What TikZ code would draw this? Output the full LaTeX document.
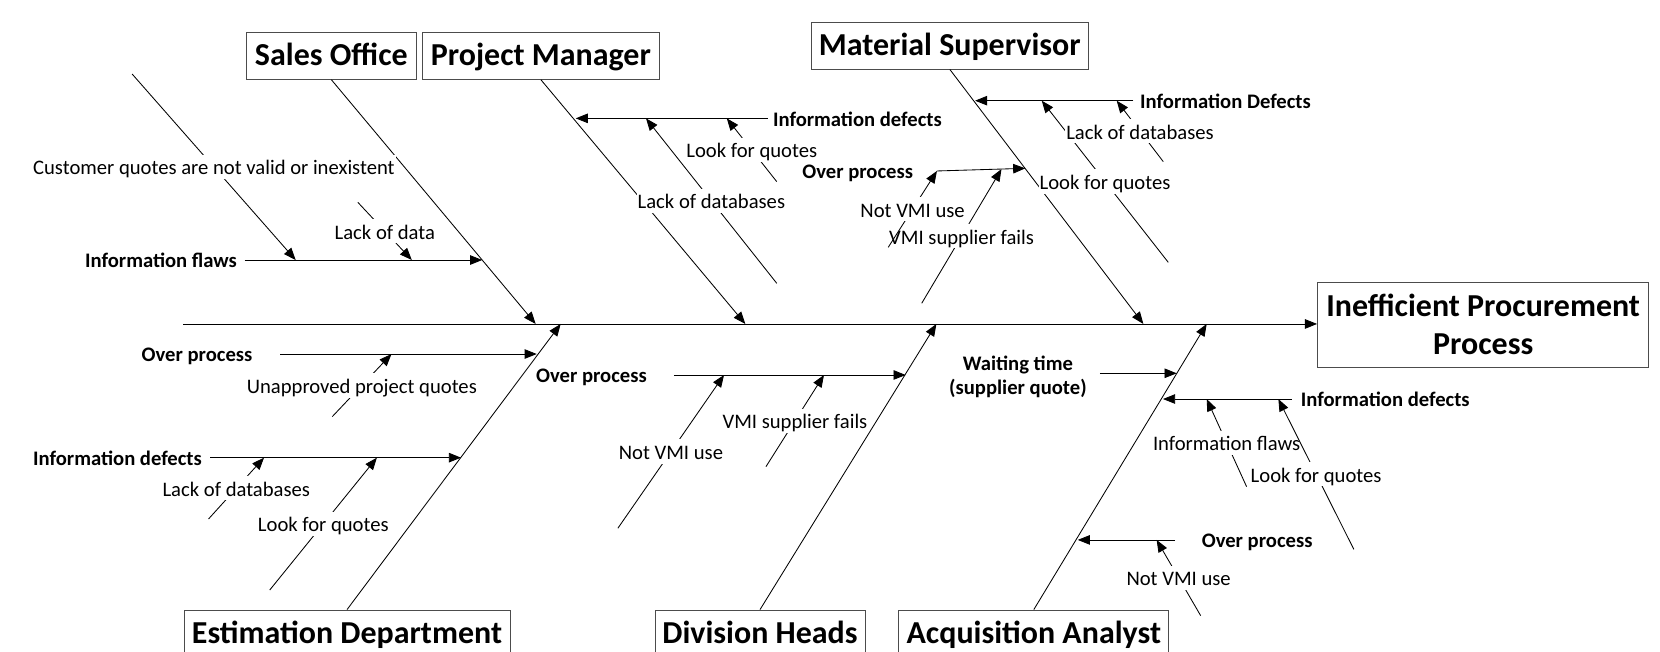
\documentclass[tikz,border=0pt]{standalone}
\usepackage{fontspec}
\setmainfont{Carlito}
\usetikzlibrary{arrows.meta}

\begin{document}
\begin{tikzpicture}[x=1pt, y=-1pt,
	headbox/.style={draw=black!70, line width=0.8pt, font=\bfseries\fontsize{30.2}{36}\selectfont, inner sep=0pt},
	ownerbox/.style={headbox, minimum height=44.4pt, text height=19.5pt, text depth=0.5pt},
	bone/.style={-{Triangle[length=11.5pt,width=9pt]}, line width=0.8pt},
	cause/.style={font=\fontsize{19.5}{23}\selectfont, fill=white, inner xsep=1pt, inner ysep=2.5pt, text height=16.5pt, text depth=1.5pt},
	grouplbl/.style={font=\bfseries\fontsize{19.5}{23}\selectfont, inner sep=0pt, text height=16pt, text depth=1pt},]

	\useasboundingbox (0,0) rectangle (1568,615);

	\node[ownerbox, minimum width=160.6pt] (sales) at (313,52.7) {Sales Office};
	\node[ownerbox, minimum width=223pt] (pm) at (510.9,52.7) {Project Manager};
	\node[ownerbox, minimum width=261.5pt] (ms) at (897.2,43) {Material Supervisor};
	\node[ownerbox, minimum width=307.9pt] (est) at (327.8,598.4) {Estimation Department};
	\node[ownerbox, minimum width=198.3pt] (div) at (717.9,598.4) {Division Heads};
	\node[ownerbox, minimum width=255pt] (acq) at (976.5,598.4) {Acquisition Analyst};
	\node[headbox, align=center, minimum width=313pt, minimum height=80.3pt] (effect) at (1401,306.5) {Inefficient Procurement\\Process};

	\coordinate (tail) at (173,306);
	\coordinate (sTip) at (506,306);
	\coordinate (pTip) at (704,306);
	\coordinate (mTip) at (1080,306);
	\coordinate (eTip) at (529.6,306);
	\coordinate (dTip) at (884.5,306);
	\coordinate (aTip) at (1139.8,306);

	\draw[bone] (tail) -- (tail -| effect.west);
	\draw[bone] (sales.south) -- (sTip);
	\draw[bone] (pm.south) -- (pTip);
	\draw[bone] (ms.south) -- (mTip);
	\draw[bone] (est.north) -- (eTip);
	\draw[bone] (div.north) -- (dTip);
	\draw[bone] (acq.north) -- (aTip);

	\path (231,245.6) coordinate (sf0) (455.5,245.6) coordinate (sf1)
		(124.8,69.9) coordinate (cq0) (279.3,245.6) coordinate (cq1)
		(338,191.1) coordinate (ld0) (389,245.6) coordinate (ld1);
	\node[grouplbl, anchor=east] (sFlaw) at (224,245.6) {Information flaws};
	\draw[bone] (sf0) -- (sf1);
	\draw[bone] (cq0) -- node[cause] (cq) {Customer quotes are not valid or inexistent} (cq1);
	\draw[bone] (ld0) -- node[cause] (ld) {Lack of data} (ld1);

	\path (725,111.8) coordinate (pd0) (543.8,111.8) coordinate (pd1)
		(733.7,267.6) coordinate (pl0) (610.2,111.8) coordinate (pl1)
		(733.7,171.6) coordinate (pq0) (686.5,111.8) coordinate (pq1);
	\node[grouplbl, anchor=west] (pDef) at (730,111.8) {Information defects};
	\draw[bone] (pd0) -- (pd1);
	\draw[bone] (pl0) -- node[cause] (pl) {Lack of databases} (pl1);
	\draw[bone] (pq0) -- node[cause] (pq) {Look for quotes} (pq1);

	\path (1070.5,95.1) coordinate (md0) (921,95.1) coordinate (md1)
		(1103.5,247.8) coordinate (mq0) (984,95.1) coordinate (mq1)
		(1098.8,152.7) coordinate (ml0) (1054.8,95.1) coordinate (ml1)
		(885,161.5) coordinate (mo0) (968.5,159) coordinate (mo1)
		(870.6,286.5) coordinate (mv0) (946,159.7) coordinate (mv1)
		(839,233.6) coordinate (mn0);
	\node[grouplbl, anchor=west] (mDef) at (1076.8,95.1) {Information Defects};
	\node[grouplbl, anchor=east] (mOver) at (862.7,161.2) {Over process};
	\draw[bone] (md0) -- (md1);
	\draw[bone] (mq0) -- node[cause] (mq) {Look for quotes} (mq1);
	\draw[bone] (ml0) -- node[cause] (ml) {Lack of databases} (ml1);
	\draw[bone] (mo0) -- (mo1);
	\draw[bone] (mv0) -- node[cause] (mv) {VMI supplier fails} (mv1);
	\draw[bone] (mn0) -- node[cause] (mn) {Not VMI use} (mo0);

	\path (264.6,334.4) coordinate (eo0) (507,334.4) coordinate (eo1)
		(313.8,393.6) coordinate (eu0) (369.8,334.4) coordinate (eu1)
		(198.8,432.3) coordinate (ed0) (435.5,432.3) coordinate (ed1)
		(197,490.2) coordinate (el0) (249.4,432.3) coordinate (el1)
		(254.8,557.3) coordinate (eq0) (356,432.3) coordinate (eq1);
	\node[grouplbl, anchor=east] (eOver) at (238.6,334.4) {Over process};
	\node[grouplbl, anchor=east] (eDef) at (190.9,432.3) {Information defects};
	\draw[bone] (eo0) -- (eo1);
	\draw[bone] (eu0) -- node[cause] (eu) {Unapproved project quotes} (eu1);
	\draw[bone] (ed0) -- (ed1);
	\draw[bone] (el0) -- node[cause] (el) {Lack of databases} (el1);
	\draw[bone] (eq0) -- node[cause] (eq) {Look for quotes} (eq1);

	\path (636.5,354.2) coordinate (do0) (855.5,354.2) coordinate (do1)
		(583.6,499) coordinate (dn0) (683.9,354.2) coordinate (dn1)
		(723.5,440.8) coordinate (dv0) (778.3,354.2) coordinate (dv1);
	\node[grouplbl, anchor=east] (dOver) at (611.2,354.2) {Over process};
	\draw[bone] (do0) -- (do1);
	\draw[bone] (dn0) -- node[cause] (dn) {Not VMI use} (dn1);
	\draw[bone] (dv0) -- node[cause] (dv) {VMI supplier fails} (dv1);

	\path (1039,352.6) coordinate (aw0) (1111.5,352.6) coordinate (aw1)
		(1220,376.9) coordinate (ad0) (1098.5,376.9) coordinate (ad1)
		(1177.5,459.7) coordinate (af0) (1139.8,376.9) coordinate (af1)
		(1278.8,518.9) coordinate (aq0) (1207.5,376.9) coordinate (aq1)
		(1109.9,510) coordinate (ao0) (1018,510) coordinate (ao1)
		(1134.1,581.5) coordinate (an0) (1092.5,510) coordinate (an1);
	\node[font=\bfseries\fontsize{19.5}{23}\selectfont, align=center, inner sep=0pt] (aWait) at (961.5,355.7) {Waiting time\\(supplier quote)};
	\node[grouplbl, anchor=west] (aDef) at (1228.6,376.9) {Information defects};
	\node[grouplbl, anchor=west] (aOver) at (1135,510) {Over process};
	\draw[bone] (aw0) -- (aw1);
	\draw[bone] (ad0) -- (ad1);
	\draw[bone] (af0) -- node[cause] (af) {Information flaws} (af1);
	\draw[bone] (aq0) -- node[cause] (aq) {Look for quotes} (aq1);
	\draw[bone] (ao0) -- (ao1);
	\draw[bone] (an0) -- node[cause] (an) {Not VMI use} (an1);
\end{tikzpicture}
\end{document}
